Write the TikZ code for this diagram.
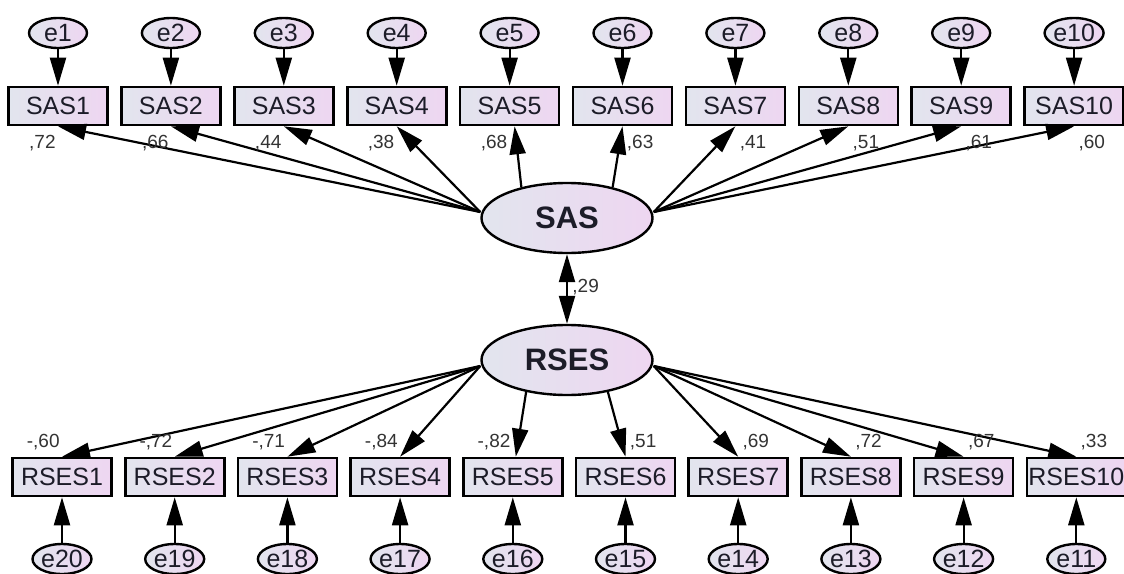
\documentclass[tikz,border=0pt]{standalone}
\usepackage{fontspec}
\setmainfont{Liberation Sans}
\usepackage{tikz}
\usetikzlibrary{positioning, arrows.meta, shapes.geometric}

\definecolor{fillL}{HTML}{E2E5EE}
\definecolor{fillR}{HTML}{EED6F1}
\definecolor{ink}{HTML}{1C1C28}

\tikzset{
  obs/.style={draw, line width=1.3pt, rectangle, inner sep=0pt,
    minimum width=49.5pt, minimum height=19pt,
    left color=fillL, right color=fillR, text=ink,
    font=\fontsize{12.5}{12.5}\selectfont},
  err/.style={draw, line width=1.2pt, ellipse, inner sep=0pt,
    minimum width=29pt, minimum height=15pt,
    left color=fillL, right color=fillR, text=ink,
    font=\fontsize{12.5}{12.5}\selectfont},
  lat/.style={draw, line width=1.2pt, ellipse, inner sep=0pt,
    minimum width=85.5pt, minimum height=35pt,
    left color=fillL, right color=fillR, text=ink,
    font=\bfseries\fontsize{15.5}{15.5}\selectfont},
  load/.style={-{Triangle[length=14pt,width=8pt]}, line width=1.1pt},
  coef/.style={inner sep=0pt, text=black!80, font=\fontsize{9.5}{9.5}\selectfont},
}

\begin{document}
\begin{tikzpicture}[x=0.5pt, y=-0.5pt]
\useasboundingbox (0,0) rectangle (1124,573);

% latent factors
\node[lat] (SAS) at (567,218) {SAS};
\node[lat] (RSES) at (567,360) {RSES};
\draw[{Triangle[length=14pt,width=8pt]}-{Triangle[length=14pt,width=8pt]}, line width=1.1pt] (SAS) -- (RSES);
\node[coef, anchor=west] (r) at (572,287) {,29};

% where the loadings leave the ellipses
\coordinate (sasL) at ([yshift=3pt]SAS.west);
\coordinate (sasR) at ([yshift=3pt]SAS.east);
\coordinate (rsesL) at ([yshift=-3pt]RSES.west);
\coordinate (rsesR) at ([yshift=-3pt]RSES.east);

% SAS items with their errors
\foreach \i in {1,...,10} {
  \pgfmathsetmacro\xt{58+112.9*(\i-1)}
  \node[obs] (s\i) at (\xt,106) {SAS\i};
  \node[err] (e\i) at (\xt,33) {e\i};
  \draw[load] (e\i) -- (s\i);
}
\foreach \i/\src in {1/sasL,2/sasL,3/sasL,4/sasL,6/SAS.34,7/sasR,8/sasR,9/sasR,10/sasR}
  \draw[load] (\src) -- (s\i.south);
\draw[load] (SAS.146) -- ([xshift=2.5pt]s5.south);

% RSES items, errors numbered backwards
\foreach \i in {1,...,10} {
  \pgfmathsetmacro\xb{62+112.7*(\i-1)}
  \pgfmathtruncatemacro\k{21-\i}
  \node[obs] (q\i) at (\xb,477) {RSES\i};
  \node[err] (e\k) at (\xb,559) {e\k};
  \draw[load] (e\k) -- (q\i);
}
\foreach \i/\src in {1/rsesL,2/rsesL,3/rsesL,4/rsesL,6/RSES.322,7/rsesR,8/rsesR,9/rsesR,10/rsesR}
  \draw[load] (\src) -- (q\i.north);
\draw[load] (RSES.218) -- ([xshift=1.5pt]q5.north);

% loadings
\foreach \i/\v in {1/{,72},2/{,66},3/{,44},4/{,38},5/{,68}}
  \node[coef, anchor=east] (c\i) at ([xshift=-1pt]s\i.center |- 0,143) {\v};
\foreach \i/\v in {6/{,63},7/{,41},8/{,51},9/{,61},10/{,60}}
  \node[coef, anchor=west] (c\i) at ([xshift=2pt]s\i.center |- 0,143) {\v};
\foreach \i/\v in {1/{-,60},2/{-,72},3/{-,71},4/{-,84},5/{-,82}}
  \node[coef, anchor=east] (d\i) at ([xshift=-1pt]q\i.center |- 0,442) {\v};
\foreach \i/\v in {6/{,51},7/{,69},8/{,72},9/{,67},10/{,33}}
  \node[coef, anchor=west] (d\i) at ([xshift=2pt]q\i.center |- 0,442) {\v};
\end{tikzpicture}
\end{document}
